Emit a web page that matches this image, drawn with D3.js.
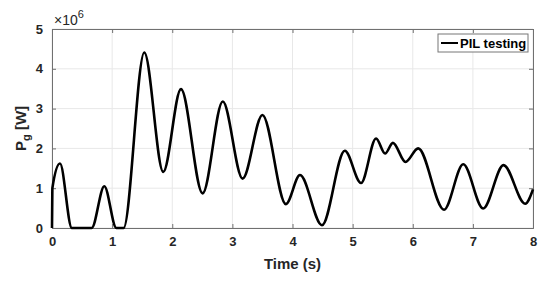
<!DOCTYPE html>
<html>
<head>
<meta charset="utf-8">
<script src="https://cdnjs.cloudflare.com/ajax/libs/d3/7.8.5/d3.min.js"></script>
<style>
  body { margin: 0; background: #fff; }
  svg { font-family: "Liberation Sans", Arial, sans-serif; }
</style>
</head>
<body>
<div id="chart"></div>
<script>

// time (s) and P_g (x 1e6 W) at the turning points
var timeS = [0, 0.006, 0.133, 0.33, 0.66, 0.87, 1.07, 1.19, 1.535, 1.85, 2.145, 2.505, 2.84, 3.17, 3.50, 3.89, 4.125,
    4.49, 4.87, 5.14, 5.39, 5.54, 5.67, 5.88, 6.09, 6.52, 6.84, 7.17, 7.51, 7.87, 8.0];
var powerMW = [0, 1.0, 1.62, 0, 0, 1.05, 0, 0, 4.41, 1.41, 3.49, 0.87, 3.18, 1.24, 2.84, 0.60, 1.33,
    0.07, 1.94, 1.13, 2.25, 1.87, 2.14, 1.66, 2.0, 0.46, 1.60, 0.49, 1.58, 0.61, 0.97];

var xTicks = [0, 1, 2, 3, 4, 5, 6, 7, 8];
var yTicks = [0, 1, 2, 3, 4, 5];
var seriesName = "PIL testing";

var W = 550, H = 285;
var margin = {left: 52, right: 17, top: 29, bottom: 57};

var svg = d3.select("#chart").append("svg").attr("width", W).attr("height", H);

var x = d3.scaleLinear().domain([0, 8]).range([margin.left, W - margin.right]);
var y = d3.scaleLinear().domain([0, 5]).range([H - margin.bottom, margin.top]);

var points = timeS.map(function (t, i) { return {t: t, v: powerMW[i]}; });

// grid
svg.append("g").selectAll("line.gx").data(xTicks).enter().append("line")
    .attr("x1", function (d) { return x(d); }).attr("x2", function (d) { return x(d); })
    .attr("y1", y(0)).attr("y2", y(5))
    .attr("stroke", "#e8e8e8").attr("stroke-width", 1);
svg.append("g").selectAll("line.gy").data(yTicks).enter().append("line")
    .attr("x1", x(0)).attr("x2", x(8))
    .attr("y1", function (d) { return y(d); }).attr("y2", function (d) { return y(d); })
    .attr("stroke", "#e8e8e8").attr("stroke-width", 1);

// axes, MATLAB style box with inward ticks
var axColor = "#707070";
var bottomAxis = d3.axisBottom(x).tickValues(xTicks).tickSize(-4).tickPadding(9).tickFormat(d3.format("d"));
var leftAxis = d3.axisLeft(y).tickValues(yTicks).tickSize(-4).tickPadding(9).tickFormat(d3.format("d"));
var topAxis = d3.axisTop(x).tickValues(xTicks).tickSize(-4).tickFormat("");
var rightAxis = d3.axisRight(y).tickValues(yTicks).tickSize(-4).tickFormat("");

function styleAxis(g) {
    g.selectAll("path").attr("stroke", axColor);
    g.selectAll("line").attr("stroke", axColor);
    g.selectAll("text").attr("fill", "#262626").attr("font-size", "13px").attr("font-weight", "bold")
        .attr("font-family", "Liberation Sans, Arial, sans-serif");
}

svg.append("g").attr("transform", "translate(0," + y(0) + ")").call(bottomAxis).call(styleAxis);
svg.append("g").attr("transform", "translate(" + x(0) + ",0)").call(leftAxis).call(styleAxis);
svg.append("g").attr("transform", "translate(0," + y(5) + ")").call(topAxis).call(styleAxis);
svg.append("g").attr("transform", "translate(" + x(8) + ",0)").call(rightAxis).call(styleAxis);

// data line
var line = d3.line()
    .x(function (d) { return x(d.t); })
    .y(function (d) { return y(d.v); })
    .curve(d3.curveMonotoneX);

svg.append("path").datum(points)
    .attr("d", line)
    .attr("fill", "none")
    .attr("stroke", "#000")
    .attr("stroke-width", 2.6)
    .attr("stroke-linejoin", "round");

// labels
svg.append("text").attr("x", (x(0) + x(8)) / 2).attr("y", 269)
    .attr("text-anchor", "middle").attr("font-size", "15px").attr("font-weight", "bold")
    .attr("fill", "#262626").text("Time (s)");

var yl = svg.append("text").attr("transform", "translate(26," + ((y(0) + y(5)) / 2) + ") rotate(-90)")
    .attr("text-anchor", "middle").attr("font-size", "15px").attr("font-weight", "bold").attr("fill", "#262626");
yl.append("tspan").text("P");
yl.append("tspan").attr("font-size", "11px").attr("dy", 4).text("g");
yl.append("tspan").attr("dy", -4).text(" [W]");

var ex = svg.append("text").attr("x", 54).attr("y", 25).attr("font-size", "14px").attr("fill", "#262626");
ex.append("tspan").text("\u00d710");
ex.append("tspan").attr("font-size", "11px").attr("dy", -7).text("6");

// legend
var lg = svg.append("g");
lg.append("rect").attr("x", 438).attr("y", 34).attr("width", 90).attr("height", 18)
    .attr("fill", "#fff").attr("stroke", "#777").attr("stroke-width", 1);
lg.append("line").attr("x1", 441).attr("x2", 458).attr("y1", 43).attr("y2", 43)
    .attr("stroke", "#000").attr("stroke-width", 2);
lg.append("text").attr("x", 460).attr("y", 47.5).attr("font-size", "13px").attr("font-weight", "bold")
    .attr("fill", "#000").text(seriesName);

</script>
</body>
</html>
